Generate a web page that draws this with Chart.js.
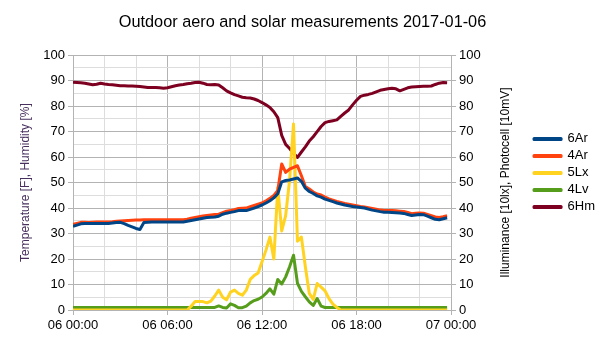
<!DOCTYPE html>
<html>
<head>
<meta charset="utf-8">
<script src="https://cdn.jsdelivr.net/npm/chart.js@4/dist/chart.umd.min.js"></script>
<style>
  html, body { margin: 0; padding: 0; background: #fff; }
</style>
</head>
<body>
<canvas id="chart" width="605" height="340"></canvas>
<script>
/* Sample times, hours since 2017-01-06 00:00 (15 minute readings) */
const HOURS = [
  0, 0.25, 0.5, 0.75, 1, 1.25, 1.5, 1.75, 2, 2.25, 2.5, 2.75,
  3, 3.25, 3.5, 3.75, 4, 4.25, 4.5, 4.75, 5, 5.25, 5.5, 5.75,
  6, 6.25, 6.5, 6.75, 7, 7.25, 7.5, 7.75, 8, 8.25, 8.5, 8.75,
  9, 9.25, 9.5, 9.75, 10, 10.25, 10.5, 10.75, 11, 11.25, 11.5, 11.75,
  12, 12.25, 12.5, 12.75, 13, 13.25, 13.5, 13.75, 14, 14.25, 14.5, 14.75,
  15, 15.25, 15.5, 15.75, 16, 16.25, 16.5, 16.75, 17, 17.25, 17.5, 17.75,
  18, 18.25, 18.5, 18.75, 19, 19.25, 19.5, 19.75, 20, 20.25, 20.5, 20.75,
  21, 21.25, 21.5, 21.75, 22, 22.25, 22.5, 22.75, 23, 23.25, 23.5, 23.75
];

/* Sensor 6 temperature [F] */
const AR6 = [
  32.8, 33.3, 33.8, 33.9, 33.9, 33.9, 33.9, 33.9, 33.9, 33.9, 34.1, 34.3,
  34.4, 33.9, 33.2, 32.6, 32.0, 31.6, 34.3, 34.4, 34.5, 34.5, 34.5, 34.5,
  34.5, 34.5, 34.5, 34.5, 34.5, 34.8, 35.1, 35.4, 35.7, 36.0, 36.3, 36.4,
  36.5, 36.8, 37.6, 38.0, 38.3, 38.6, 39.0, 39.0, 39.0, 39.5, 40.0, 40.6,
  41.2, 42.0, 42.9, 44.0, 45.6, 50.3, 50.8, 51.0, 51.4, 51.8, 50.5, 47.8,
  46.5, 45.7, 44.8, 44.3, 43.5, 43.0, 42.5, 42.0, 41.6, 41.2, 40.9, 40.6,
  40.4, 40.2, 40.0, 39.6, 39.2, 38.9, 38.6, 38.4, 38.4, 38.3, 38.2, 38.1,
  37.9, 37.5, 37.1, 37.3, 37.5, 37.4, 36.8, 36.2, 35.6, 35.4, 35.8, 36.2
];

/* Sensor 4 temperature [F] */
const AR4 = [
  33.6, 34.0, 34.4, 34.4, 34.3, 34.4, 34.5, 34.5, 34.5, 34.5, 34.6, 34.8,
  34.9, 35.0, 35.1, 35.2, 35.3, 35.3, 35.4, 35.4, 35.4, 35.4, 35.4, 35.4,
  35.4, 35.4, 35.4, 35.4, 35.4, 35.6, 36.0, 36.3, 36.6, 36.9, 37.1, 37.3,
  37.5, 37.6, 38.2, 38.8, 39.0, 39.4, 39.8, 39.9, 40.0, 40.5, 41.0, 41.5,
  42.0, 42.8, 43.8, 45.0, 46.9, 57.3, 54.0, 55.3, 56.0, 56.6, 52.7, 48.5,
  47.5, 46.3, 45.5, 45.1, 44.3, 43.6, 43.1, 42.6, 42.2, 41.8, 41.5, 41.2,
  40.9, 40.6, 40.4, 40.1, 39.8, 39.5, 39.2, 39.0, 39.0, 39.0, 38.9, 38.8,
  38.7, 38.3, 37.8, 38.0, 38.1, 38.0, 37.5, 37.0, 36.5, 36.3, 36.6, 37.0
];

/* Sensor 5 illuminance [10lx] */
const LX5 = [
  0, 0, 0, 0, 0, 0, 0, 0, 0, 0, 0, 0,
  0, 0, 0, 0, 0, 0, 0, 0, 0, 0, 0, 0,
  0, 0, 0, 0, 0, 0, 1.5, 3.3, 3.3, 3.3, 2.8, 3.5,
  5.5, 7.8, 5.0, 4.0, 7.0, 7.8, 6.5, 5.8, 7.8, 12.0, 13.5, 14.5,
  18.9, 23.5, 28.6, 20.0, 48.0, 31.0, 37.0, 51.0, 73.0, 27.0, 28.6, 17.0,
  6.5, 4.2, 10.4, 9.0, 7.5, 4.5, 2.3, 1.0, 0, 0, 0, 0,
  0, 0, 0, 0, 0, 0, 0, 0, 0, 0, 0, 0,
  0, 0, 0, 0, 0, 0, 0, 0, 0, 0, 0, 0
];

/* Sensor 4 photocell [10mV] */
const LV4 = [
  1, 1, 1, 1, 1, 1, 1, 1, 1, 1, 1, 1,
  1, 1, 1, 1, 1, 1, 1, 1, 1, 1, 1, 1,
  1, 1, 1, 1, 1, 1, 1, 1, 1, 1, 1, 1,
  1.0, 1.6, 1.0, 0.8, 2.4, 1.8, 0.9, 0.9, 1.5, 2.8, 3.7, 4.2,
  5.1, 6.5, 8.3, 6.2, 12.0, 10.2, 13.0, 17.0, 21.5, 10.5, 7.3, 5.2,
  3.2, 1.8, 4.5, 1.5, 1, 1, 1, 1, 1, 1, 1, 1,
  1, 1, 1, 1, 1, 1, 1, 1, 1, 1, 1, 1,
  1, 1, 1, 1, 1, 1, 1, 1, 1, 1, 1, 1
];

/* Sensor 6 humidity [%] */
const HM6 = [
  89.4, 89.3, 89.2, 89.0, 88.7, 88.4, 88.6, 89.0, 88.7, 88.5, 88.4, 88.2,
  88.0, 88.0, 87.9, 87.9, 87.8, 87.7, 87.5, 87.3, 87.3, 87.3, 87.2, 87.0,
  87.2, 87.6, 88.0, 88.3, 88.5, 88.8, 89.0, 89.3, 89.4, 89.0, 88.5, 88.4,
  88.5, 88.3, 87.2, 86.0, 85.2, 84.5, 84.0, 83.5, 83.3, 83.2, 82.8, 82.2,
  81.4, 80.5, 79.5, 77.8, 75.5, 68.5, 65.0, 63.4, 61.5, 59.9, 62.0, 64.0,
  66.3, 68.0, 70.0, 72.0, 73.5, 74.0, 74.3, 74.6, 76.0, 77.3, 78.5, 80.5,
  82.3, 83.8, 84.3, 84.6, 85.0, 85.6, 86.2, 86.5, 86.8, 87.0, 86.8, 86.0,
  86.6, 87.2, 87.5, 87.6, 87.7, 87.8, 87.8, 87.9, 88.5, 89.0, 89.3, 89.2
];

const SERIES = [
  { label: "6Ar", data: AR6, color: "#004586", axis: "y" },
  { label: "4Ar", data: AR4, color: "#ff420e", axis: "y" },
  { label: "5Lx", data: LX5, color: "#ffd320", axis: "y2" },
  { label: "4Lv", data: LV4, color: "#579d1c", axis: "y2" },
  { label: "6Hm", data: HM6, color: "#7e0021", axis: "y" },
];

const GRID_MAJOR = "#b3b3b3";
const GRID_MINOR = "#dddddd";
const FONT = "'Liberation Sans', Arial, sans-serif";
const RIGHT_TITLE = "Illuminance [10lx], Photocell [10mV]";

/* "06 12:00" style labels, only every 6 hours */
function hourLabel(v) {
  if (v % 6 !== 0) return "";
  const day = 6 + Math.floor(v / 24);
  const hh = v % 24;
  return String(day).padStart(2, "0") + " " + String(hh).padStart(2, "0") + ":00";
}

/* Right axis title reads bottom-to-top like the left one */
const rightAxisTitle = {
  id: "rightAxisTitle",
  afterDraw(chart) {
    const { ctx, chartArea } = chart;
    const scale = chart.scales.y2;
    ctx.save();
    ctx.translate(scale.right - 24, (chartArea.top + chartArea.bottom) / 2);
    ctx.rotate(-Math.PI / 2);
    ctx.font = "12px " + FONT;
    ctx.fillStyle = "#000";
    ctx.textAlign = "center";
    ctx.textBaseline = "middle";
    ctx.fillText(RIGHT_TITLE, 0, 0);
    ctx.restore();
  },
};

Chart.defaults.font.family = FONT;
Chart.defaults.color = "#000";

new Chart(document.getElementById("chart"), {
  type: "line",
  plugins: [rightAxisTitle],
  data: {
    datasets: SERIES.map((s) => ({
      label: s.label,
      data: HOURS.map((h, i) => ({ x: h, y: s.data[i] })),
      yAxisID: s.axis,
      borderColor: s.color,
      backgroundColor: s.color,
      borderWidth: 3,
      pointRadius: 0,
      tension: 0,
      borderJoinStyle: "round",
    })),
  },
  options: {
    responsive: false,
    animation: false,
    layout: { padding: { right: 0 } },
    plugins: {
      tooltip: { enabled: false },
      title: {
        display: true,
        text: "Outdoor aero and solar measurements 2017-01-06",
        color: "#000",
        font: { size: 16.3, weight: "normal" },
        padding: { top: 13, bottom: 22.6 },
      },
      legend: {
        position: "right",
        align: "start",
        title: { display: true, text: "", padding: { top: 114, bottom: 0 } },
        labels: {
          boxWidth: 27,
          boxHeight: 1,
          padding: 4,
          color: "#000",
          font: { size: 13 },
        },
      },
    },
    scales: {
      x: {
        type: "linear",
        min: 0,
        max: 24,
        afterFit: (scale) => { scale.height = 30; },
        border: { color: GRID_MAJOR },
        grid: {
          color: (c) => (c.tick && c.tick.value % 6 === 0 ? GRID_MAJOR : GRID_MINOR),
          tickColor: (c) => (c.tick && c.tick.value % 6 === 0 ? GRID_MAJOR : "transparent"),
          tickLength: 5,
        },
        ticks: {
          stepSize: 2,
          autoSkip: false,
          maxRotation: 0,
          padding: 3,
          font: { size: 13 },
          callback: hourLabel,
        },
      },
      y: {
        position: "left",
        min: 0,
        max: 100,
        afterFit: (scale) => { scale.width = 73; },
        border: { color: GRID_MAJOR },
        grid: {
          color: (c) => (c.tick && c.tick.value % 10 === 0 ? GRID_MAJOR : GRID_MINOR),
          tickColor: (c) => (c.tick && c.tick.value % 10 === 0 ? GRID_MAJOR : "transparent"),
          tickLength: 5,
        },
        ticks: {
          stepSize: 5,
          autoSkip: false,
          padding: 3,
          font: { size: 13 },
          callback: (v) => (v % 10 === 0 ? v : ""),
        },
        title: {
          display: true,
          text: "Temperature [F], Humidity [%]",
          color: "#47305e",
          font: { size: 12 },
          padding: { top: 18, bottom: 0 },
        },
      },
      y2: {
        position: "right",
        min: 0,
        max: 100,
        afterFit: (scale) => { scale.width = 79; },
        border: { color: GRID_MAJOR },
        grid: {
          drawOnChartArea: false,
          tickColor: (c) => (c.tick && c.tick.value % 10 === 0 ? GRID_MAJOR : "transparent"),
          tickLength: 5,
        },
        ticks: {
          stepSize: 5,
          autoSkip: false,
          padding: 3,
          font: { size: 13 },
          callback: (v) => (v % 10 === 0 ? v : ""),
        },
      },
    },
  },
});
</script>
</body>
</html>
